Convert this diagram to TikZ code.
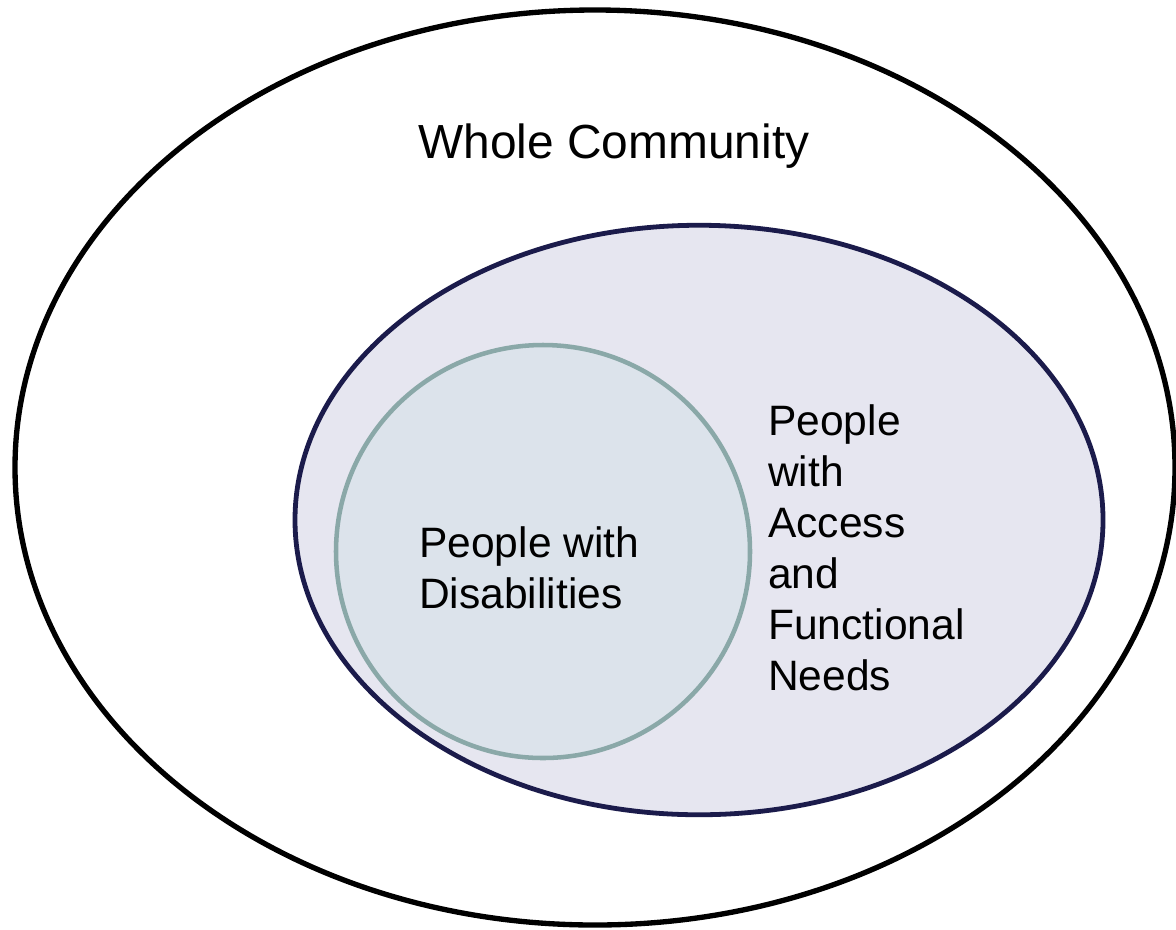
\documentclass[tikz,border=0pt]{standalone}
\usepackage{fontspec}
\setmainfont{Liberation Sans}
\usetikzlibrary{shapes.geometric}

\definecolor{afnfill}{HTML}{E6E6F0}
\definecolor{afnline}{HTML}{1B1B4B}
\definecolor{disfill}{HTML}{DCE3EB}
\definecolor{disline}{HTML}{8AA8A8}

\tikzset{
  region/.style={ellipse, inner sep=0pt, outer sep=0pt},
  label text/.style={inner sep=0pt, align=left, font=\fontsize{31.9}{38.3}\selectfont}
}

\begin{document}
\begin{tikzpicture}[x=0.75pt, y=-0.75pt]
    \useasboundingbox (0,0) rectangle (1176,929);

    % outer region
    \node[region, draw=black, line width=4pt, minimum width=1160*0.75pt, minimum height=915*0.75pt]
      (community) at (595, 467.5) {};

    % access and functional needs
    \node[region, draw=afnline, fill=afnfill, line width=3.6pt, minimum width=808*0.75pt, minimum height=589.5*0.75pt]
      (afn) at (699, 520) {};

    % disabilities
    \node[region, draw=disline, fill=disfill, line width=3.4pt, minimum width=414*0.75pt, minimum height=413*0.75pt]
      (disab) at (543, 551.5) {};

    \node[anchor=north, inner sep=0pt, font=\fontsize{35.9}{43}\selectfont]
      (communitytext) at (614, 124) {Whole Community};

    \node[label text, anchor=north west] (afntext) at (768, 404) {
      People \\
      with \\
      Access \\
      and \\
      Functional \\
      Needs
    };

    \node[label text, anchor=north west] (disabtext) at (419, 526) {
      People with \\
      Disabilities
    };
  \end{tikzpicture}
\end{document}
